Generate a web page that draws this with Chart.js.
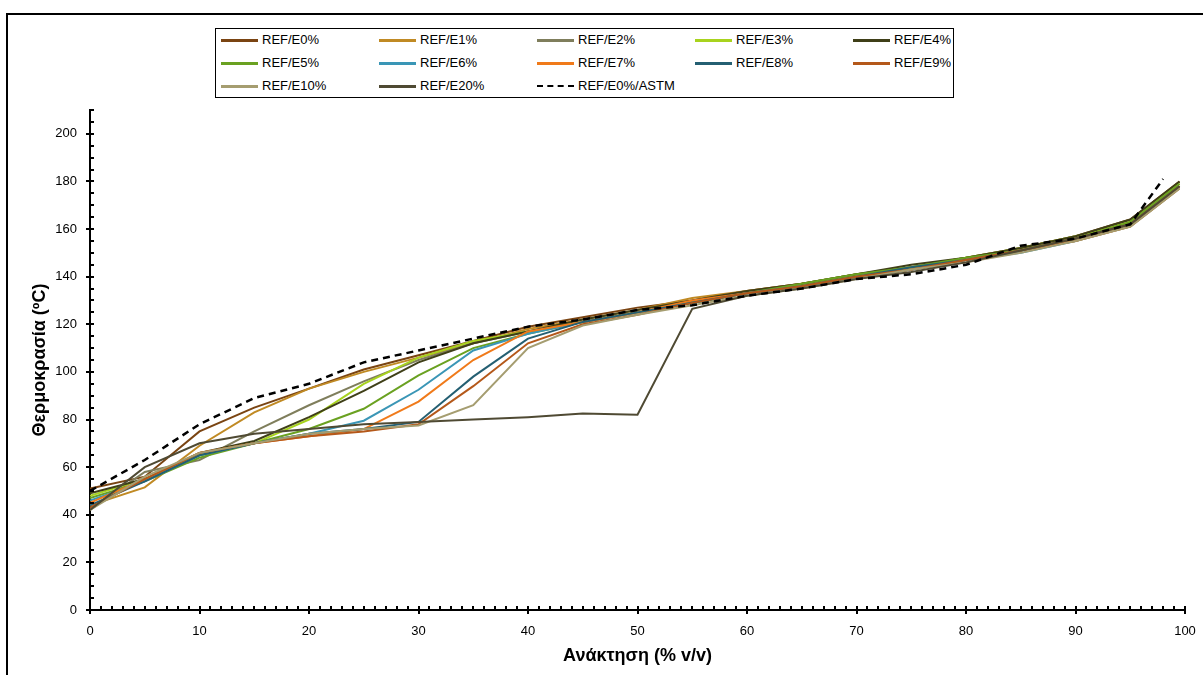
<!DOCTYPE html>
<html>
<head>
<meta charset="utf-8">
<script src="https://cdn.jsdelivr.net/npm/chart.js@4.4.1/dist/chart.umd.min.js"></script>
<style>
  html, body { margin: 0; padding: 0; background: #fff; }
  body { width: 1203px; height: 675px; position: relative; overflow: hidden; font-family: "Liberation Sans", Arial, sans-serif; }
  #frame { position: absolute; left: 6px; top: 13px; width: 1300px; height: 800px; border: 2px solid #000; box-sizing: border-box; pointer-events: none; }
  #wrap { position: absolute; left: 0; top: 0; width: 1203px; height: 675px; }
  #legend { position: absolute; left: 215px; top: 28px; width: 739px; height: 70px; border: 1px solid #000; box-sizing: border-box; background: #fff; }
  .item { position: absolute; height: 16px; font-size: 13px; line-height: 16px; color: #000; white-space: nowrap; }
  .sw { position: absolute; left: 0; top: 7px; width: 37px; height: 0; border-top: 3px solid; }
  .lbl { position: absolute; left: 41px; top: 0; }
</style>
</head>
<body>
<div id="wrap"><canvas id="c" width="1203" height="675"></canvas></div>
<div id="frame"></div>
<div id="legend"></div>
<script>
// ---- data ----
const recovery = [0, 5, 10, 15, 20, 25, 30, 35, 40, 45, 50, 55, 60, 65, 70, 75, 80, 85, 90, 95, 99.5];
const recoveryASTM = [0, 5, 10, 15, 20, 25, 30, 35, 40, 45, 50, 55, 60, 65, 70, 75, 80, 85, 90, 95, 98];

const E0  = [51, 56, 75, 85, 93, 101, 107, 113, 119, 123, 127, 130, 134, 137, 141, 144, 148, 152, 157, 164, 180];
const E1  = [44, 51.5, 69, 83, 93, 100, 106, 112, 118, 122, 126, 131, 134, 137, 140, 144, 147, 151, 156, 163, 179];
const E2  = [42, 58, 63, 75, 86, 96, 105, 112, 117, 121, 125, 129, 133, 136, 140, 143, 147, 151, 155, 162, 178];
const E3  = [48, 55, 65, 70, 80, 95, 106, 113, 117, 121, 125, 129, 133, 137, 141, 144, 148, 152, 157, 163, 179];
const E4  = [49, 55, 66, 71, 81, 92, 104, 112, 117, 122, 126, 130, 134, 137, 141, 145, 148, 152, 157, 164, 180];
const E5  = [47, 54, 64, 70, 76, 84.5, 98.5, 110, 116, 121, 125, 129, 133, 137, 141, 144, 148, 151, 156, 163, 179];
const E6  = [46, 54, 65, 70, 74, 79.5, 92.5, 109, 116, 121, 125, 129, 133, 136, 140, 143, 147, 150, 155, 161, 177];
const E7  = [45, 55, 66, 70, 73, 76, 87.5, 105, 117, 121, 125, 130, 133, 136, 140, 143, 147, 151, 155, 161, 177];
const E8  = [44, 54, 65, 70, 74, 76, 79, 98, 114, 121, 125, 129, 133, 136, 140, 144, 147, 151, 156, 162, 178];
const E9  = [43, 55, 66, 70, 73, 75, 78, 94, 112, 120, 124, 129, 133, 136, 140, 143, 147, 151, 156, 162, 178];
const E10 = [42, 56, 66, 70, 74, 76, 77.5, 86, 110, 119.5, 124, 128, 132, 135, 139, 143, 146, 150, 155, 161, 177];
const E20 = [42, 60, 70, 74, 76, 78, 79, 80, 81, 82.5, 82, 126.5, 132, 135, 139, 142, 146, 151, 156, 162, 178];
const ASTM = [50, 63, 78, 89, 95, 104, 109, 114, 119, 122, 126, 128, 132, 135, 139, 141, 145, 153, 156, 162, 181];

const seriesNames = ["REF/E0%", "REF/E1%", "REF/E2%", "REF/E3%", "REF/E4%", "REF/E5%", "REF/E6%", "REF/E7%", "REF/E8%", "REF/E9%", "REF/E10%", "REF/E20%"];
const seriesValues = [E0, E1, E2, E3, E4, E5, E6, E7, E8, E9, E10, E20];
const seriesColors = ["#7a4412", "#c08a24", "#7f7e5c", "#a8d31e", "#3f3f18", "#6aa121", "#3a96b6", "#f07a1a", "#245f72", "#b4581a", "#a59d70", "#4f4a33"];
const astmName = "REF/E0%/ASTM";

const xTickStep = 10, yTickStep = 20, xMax = 100, yMax = 210;

// ---- datasets ----
const datasets = seriesValues.map((vals, i) => ({
  label: seriesNames[i],
  data: vals.map((v, j) => ({ x: recovery[j], y: v })),
  borderColor: seriesColors[i],
  backgroundColor: seriesColors[i],
  borderWidth: 2,
  pointRadius: 0,
  tension: 0,
  order: 30 - i
}));
datasets.push({
  label: astmName,
  data: ASTM.map((v, j) => ({ x: recoveryASTM[j], y: v })),
  borderColor: "#000",
  backgroundColor: "#000",
  borderWidth: 2.5,
  borderDash: [7, 5],
  pointRadius: 0,
  tension: 0,
  order: 0
});

// ---- HTML legend ----
const legend = document.getElementById('legend');
const allNames = seriesNames.concat([astmName]);
allNames.forEach((name, k) => {
  const row = Math.floor(k / 5), col = k % 5;
  const d = document.createElement('div');
  d.className = 'item';
  d.style.left = (5 + col * 158) + 'px';
  d.style.top = (3 + row * 23) + 'px';
  const sw = document.createElement('div');
  sw.className = 'sw';
  if (k < seriesNames.length) {
    sw.style.borderTopColor = seriesColors[k];
  } else {
    sw.style.borderTop = '2px dashed #000';
    sw.style.top = '7px';
  }
  const l = document.createElement('span');
  l.className = 'lbl';
  l.textContent = name;
  d.appendChild(sw); d.appendChild(l);
  legend.appendChild(d);
});

// ---- tick mark plugin ----
const tickPlugin = {
  id: 'ticks',
  afterDraw(chart) {
    const ctx = chart.ctx, xs = chart.scales.x, ys = chart.scales.y;
    const a = chart.chartArea;
    ctx.save();
    ctx.strokeStyle = '#000';
    ctx.lineWidth = 2;
    ctx.beginPath();
    for (let v = 0; v <= xMax; v += 1) {
      const px = Math.round(xs.getPixelForValue(v));
      const major = v % xTickStep === 0;
      ctx.moveTo(px, a.bottom - 4);
      ctx.lineTo(px, major ? a.bottom + 4 : a.bottom);
    }
    for (let v = 0; v <= yMax; v += 5) {
      const py = Math.round(ys.getPixelForValue(v));
      const major = v % yTickStep === 0;
      ctx.moveTo(major ? a.left - 4 : a.left, py);
      ctx.lineTo(a.left + 4, py);
    }
    ctx.stroke();
    ctx.restore();
  }
};

const font = { family: '"Liberation Sans", Arial, sans-serif', size: 13 };
const titleFont = { family: '"Liberation Sans", Arial, sans-serif', size: 18, weight: 'bold' };

new Chart(document.getElementById('c'), {
  type: 'line',
  data: { datasets },
  options: {
    responsive: false,
    animation: false,
    events: [],
    layout: { padding: { left: 0, top: 110, right: 18, bottom: 0 } },
    plugins: { legend: { display: false }, tooltip: { enabled: false } },
    scales: {
      x: {
        type: 'linear', min: 0, max: xMax,
        grid: { display: false, drawTicks: false },
        border: { display: true, color: '#000', width: 2 },
        ticks: { stepSize: xTickStep, color: '#000', font, padding: 14, maxRotation: 0 },
        title: { display: true, text: 'Ανάκτηση (% v/v)', color: '#000', font: titleFont, padding: { top: 0, bottom: 8 } },
        afterFit(s) { s.height = 65; s.paddingLeft = 0; s.paddingRight = 0; }
      },
      y: {
        type: 'linear', min: 0, max: yMax,
        grid: { display: false, drawTicks: false },
        border: { display: true, color: '#000', width: 2 },
        ticks: { stepSize: yTickStep, color: '#000', font, padding: 13 },
        afterBuildTicks(s) { s.ticks = s.ticks.filter(t => t.value % yTickStep === 0); },
        title: { display: true, text: 'Θερμοκρασία (ºC)', color: '#000', font: titleFont, padding: { top: 29, bottom: 0 } },
        afterFit(s) { s.width = 90; s.paddingTop = 0; s.paddingBottom = 0; }
      }
    }
  },
  plugins: [tickPlugin]
});
</script>
</body>
</html>
